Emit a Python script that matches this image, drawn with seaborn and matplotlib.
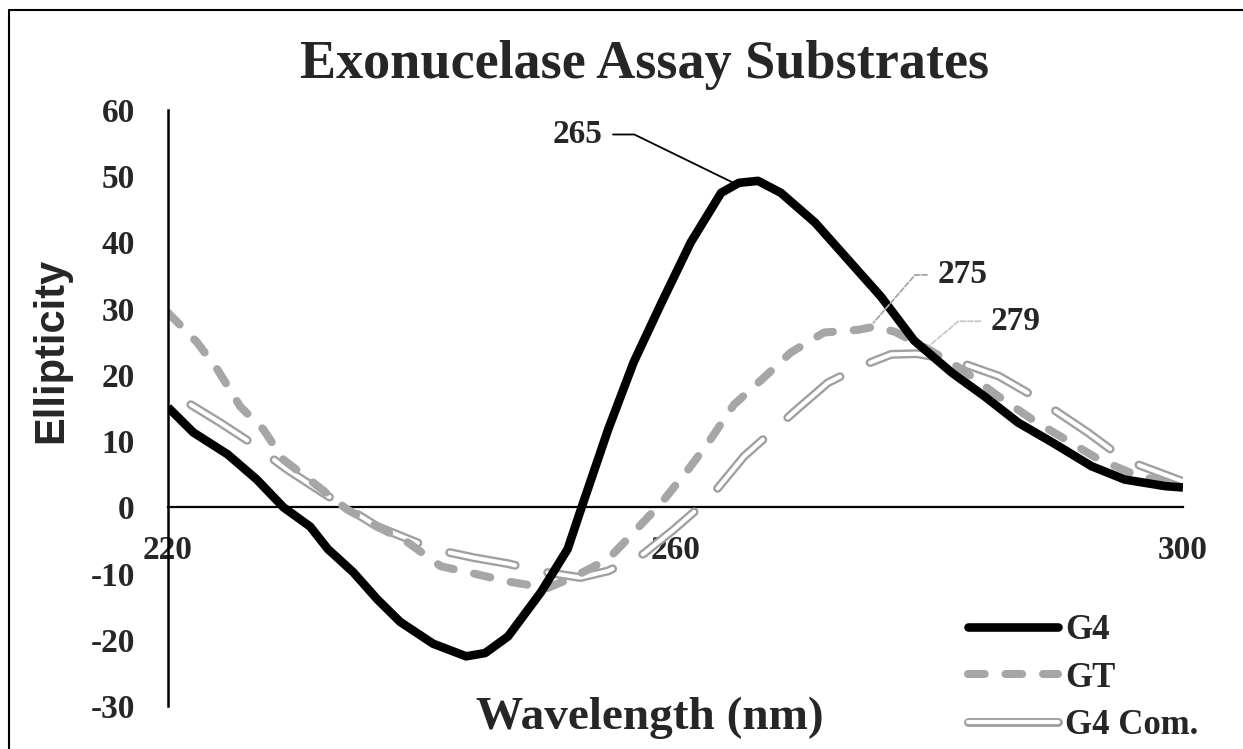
#!/usr/bin/env python3
"""
CD spectra of exonuclease assay substrates (G4, GT, G4 complement).
"""

import numpy as np
import pandas as pd
import matplotlib
matplotlib.use("Agg")
import matplotlib.pyplot as plt
from matplotlib.lines import Line2D
import seaborn as sns

# ---- data ----
g4_nm = [220, 222, 224.7, 227, 229.1, 231.2, 232.6, 234.6, 236.5, 238.3, 240.9,
         243.5, 245, 246.8, 249.4, 251.5, 252.6, 254.7, 256.7, 258.9, 261.2,
         263.6, 265, 266.5, 268.3, 271, 273.6, 276.2, 278.8, 281.8, 284.4, 287,
         289.7, 292.8, 295.4, 298.6, 300]
g4_val = [15.1, 11.3, 8.0, 4.2, 0.0, -2.9, -6.3, -9.8, -13.9, -17.3, -20.6,
          -22.5, -22.0, -19.5, -12.8, -6.3, 0.0, 11.8, 21.9, 30.9, 40.0,
          47.5, 49.0, 49.3, 47.5, 43.0, 37.4, 31.8, 25.2, 20.3, 16.7, 12.8,
          9.8, 6.2, 4.2, 3.2, 3.0]

gt_nm = [220, 222.3, 223.9, 225.7, 227.5, 229.1, 231.8, 234.1, 236.5, 238.9,
         241.5, 244.1, 246.8, 249.9, 252, 254.7, 256.7, 258.9, 261, 262.6,
         264.6, 266.8, 269.1, 271.7, 274.4, 275.7, 277.3, 280, 282.6, 285.5,
         288.1, 290.7, 293.4, 296.5, 300]
gt_val = [29.4, 24.9, 20.8, 15.2, 11.8, 7.2, 3.2, -0.3, -2.9, -5.3,
          -8.9, -10.0, -11.2, -12.2, -10.5, -7.8, -3.8, 0.7, 5.7, 9.8,
          15.5, 19.3, 23.4, 26.4, 26.8, 27.3, 26.5, 23.8, 20.8, 16.7,
          13.3, 10.3, 7.2, 4.7, 3.4]

com_nm = [221.8, 224.1, 226.5, 229.4, 232.6, 236.5, 240.9, 244.1, 246.8, 249.4,
          252.5, 254.7, 257.5, 259.9, 262.6, 265.4, 269.7, 272, 274.6, 277,
          279, 281.8, 285.5, 288.3, 292.5, 295.4, 300]
com_val = [15.5, 12.8, 9.8, 5.7, 1.7, -2.9, -6.3, -7.6, -8.5, -9.7,
           -10.6, -9.6, -7.0, -3.3, 1.2, 7.7, 15.0, 18.8, 21.3, 23.1,
           23.2, 22.3, 19.8, 16.7, 11.3, 7.2, 3.9]

# peak call-outs: label, wavelength touched by the leader, text position, leader angle
peak_labels = ["265", "275", "279"]
peak_at = [264.5, 275.6, 280.0]
peak_series = ["G4", "GT", "GT"]
label_xy = [(252.3, 56.3), (282.6, 35.1), (286.8, 28.1)]
leader_angle = [154, 49, 40]
leader_color = ["black", "#a6a6a6", "#c8c8c8"]
leader_style = ["-", "--", "--"]

df = pd.concat([
    pd.DataFrame({"nm": g4_nm, "val": g4_val, "sample": "G4"}),
    pd.DataFrame({"nm": gt_nm, "val": gt_val, "sample": "GT"}),
    pd.DataFrame({"nm": com_nm, "val": com_val, "sample": "G4 Com."}),
])

sns.set_style("white")
plt.rcParams["font.family"] = ["Liberation Serif", "DejaVu Serif"]
plt.rcParams["font.weight"] = "bold"
plt.rcParams["lines.scale_dashes"] = False

fig = plt.figure(figsize=(12.43, 7.49), dpi=100)
ax = fig.add_axes([168 / 1243, 43 / 749, 1015 / 1243, 596 / 749])

GRAY = "#a6a6a6"
COM_GRAY = "#a0a0a0"
COM_DASH = (0, (48, 24))
COM_OUTER, COM_INNER = 6.4, 3.0

# G4 complement: outlined (double) long-dash line
com = df[df["sample"] == "G4 Com."]
sns.lineplot(data=com, x="nm", y="val", ax=ax, color=COM_GRAY, linewidth=COM_OUTER,
             linestyle=COM_DASH, dash_capstyle="round", dash_joinstyle="round",
             sort=False, estimator=None)
sns.lineplot(data=com, x="nm", y="val", ax=ax, color="white", linewidth=COM_INNER,
             linestyle=COM_DASH, dash_capstyle="round", dash_joinstyle="round",
             sort=False, estimator=None)

# GT: thick gray dashes
sns.lineplot(data=df[df["sample"] == "GT"], x="nm", y="val", ax=ax, color=GRAY,
             linewidth=5.8, linestyle=(0, (12, 15)), dash_capstyle="round",
             dash_joinstyle="round", sort=False, estimator=None)

# G4: thick black
sns.lineplot(data=df[df["sample"] == "G4"], x="nm", y="val", ax=ax, color="black",
             linewidth=6.2, solid_capstyle="butt", solid_joinstyle="round",
             sort=False, estimator=None)

ax.set_xlim(220, 300)
ax.set_ylim(-30, 60)
ax.set_xticks([220, 260, 300])
ax.set_yticks(np.arange(-30, 61, 10))
ax.tick_params(axis="both", length=0, labelsize=24)
ax.tick_params(axis="y", pad=24)
ax.tick_params(axis="x", pad=20)
for lab in ax.get_xticklabels() + ax.get_yticklabels():
    lab.set_fontweight("bold")
ax.set_yticklabels([f"{int(v)}" for v in ax.get_yticks()])

for side in ["top", "right"]:
    ax.spines[side].set_visible(False)
ax.spines["bottom"].set_position(("data", 0))
ax.spines["bottom"].set_linewidth(1.6)
ax.spines["left"].set_linewidth(1.8)
ax.spines["bottom"].set_color("black")
ax.spines["left"].set_color("black")
ax.spines["bottom"].set_zorder(0.5)

ax.set_ylabel("Ellipticity", fontsize=30, fontweight="bold",
              family=["Liberation Sans", "DejaVu Sans"])
ax.yaxis.set_label_coords(-0.095, 0.597)
ax.set_xlabel("Wavelength (nm)", fontsize=34, fontweight="bold")
ax.xaxis.set_label_coords(0.475, 0.015)

fig.suptitle("Exonucelase Assay Substrates", x=645 / 1243, y=1 - 65 / 749,
             va="center", fontsize=39, fontweight="bold")

# peak call-outs with elbow leaders
series_lookup = {"G4": (g4_nm, g4_val), "GT": (gt_nm, gt_val)}
for lab, px, ser, (tx, ty), ang, col, ls in zip(peak_labels, peak_at, peak_series,
                                                 label_xy, leader_angle,
                                                 leader_color, leader_style):
    xs, ys = series_lookup[ser]
    py = np.interp(px, xs, ys) + 0.6
    ax.annotate(lab, xy=(px, py), xytext=(tx, ty), textcoords="data",
                ha="center", va="center", fontsize=24, fontweight="bold",
                arrowprops=dict(arrowstyle="-", color=col, linestyle=ls,
                                linewidth=1.3, shrinkA=5, shrinkB=0,
                                connectionstyle=f"angle,angleA=0,angleB={ang},rad=0"))

# legend
handles = [
    Line2D([], [], color="black", linewidth=6.2, solid_capstyle="round"),
    Line2D([], [], color=GRAY, linewidth=5.8, linestyle=(0, (12, 15)),
           dash_capstyle="round"),
    (Line2D([], [], color=COM_GRAY, linewidth=COM_OUTER, solid_capstyle="round"),
     Line2D([], [], color="white", linewidth=COM_INNER, solid_capstyle="round")),
]
fig.legend(handles, ["G4", "GT", "G4 Com."], loc="upper left",
           bbox_to_anchor=(968 / 1243, 1 - 614 / 749), frameon=False,
           prop={"family": "Liberation Serif", "weight": "bold", "size": 25},
           handlelength=2.6, handletextpad=0.2, labelspacing=0.42,
           borderpad=0, borderaxespad=0)

# outer frame (left and top edges visible in original)
fig.add_artist(Line2D([9 / 1243, 9 / 1243], [0, 1 - 10 / 749],
                      transform=fig.transFigure, color="black", linewidth=1.5))
fig.add_artist(Line2D([9 / 1243, 1], [1 - 10 / 749, 1 - 10 / 749],
                      transform=fig.transFigure, color="black", linewidth=1.5))

fig.savefig("out.png", dpi=100)
plt.close(fig)
